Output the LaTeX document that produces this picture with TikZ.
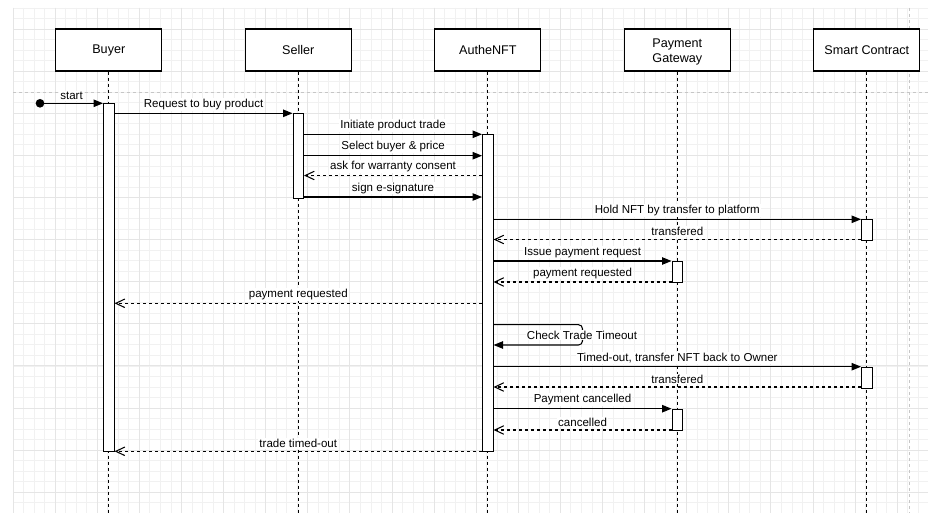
\documentclass[tikz,border=0pt]{standalone}
\usepackage{fontspec}
\setmainfont{Liberation Sans}
\usetikzlibrary{arrows.meta}
\begin{document}
\begin{tikzpicture}[x=1pt,y=-1pt,
  head/.style={draw=black, fill=white, line width=1.05pt, minimum width=106pt,
    minimum height=42pt, inner sep=0pt, align=center,
    font=\fontsize{12.6}{15}\selectfont},
  headtxt/.style={inner sep=0pt, align=center, font=\fontsize{12.6}{15}\selectfont},
  life/.style={line width=1.05pt, dash pattern=on 3pt off 3pt},
  bar/.style={draw=black, fill=white, line width=1.05pt, minimum width=10.5pt,
    inner sep=0pt, anchor=north},
  call/.style={line width=1.05pt, -{Triangle[length=9.5pt,width=7.5pt]}},
  reply/.style={line width=1.05pt, dash pattern=on 3pt off 3pt,
    -{Straight Barb[length=9pt,width=8.5pt]}},
  txt/.style={font=\fontsize{11.55}{13}\selectfont, fill=white, inner sep=1pt},
  lbl/.style={txt, above=2pt, midway},
]
\useasboundingbox (0,0) rectangle (928,513);
\fill[white] (0,0) rectangle (928,513);

% canvas grid
\foreach \i in {0,...,87}
  \draw[gray!11, line width=0.7pt] ({13+10.525*\i},8) -- ({13+10.525*\i},513);
\foreach \j in {0,...,48}
  \draw[gray!11, line width=0.7pt] (13,{8+10.525*\j}) -- (928,{8+10.525*\j});
\foreach \i in {0,...,21}
  \draw[gray!20, line width=0.8pt] ({13+42.1*\i},8) -- ({13+42.1*\i},513);
\foreach \j in {0,...,11}
  \draw[gray!20, line width=0.8pt] (13,{29.05+42.1*\j}) -- (928,{29.05+42.1*\j});

% page break marks
\draw[gray!45, line width=0.8pt, dash pattern=on 3pt off 3pt] (13,92) -- (928,92);
\draw[gray!45, line width=0.8pt, dash pattern=on 3pt off 3pt] (909.3,8) -- (909.3,513);

% participants
\node[head] (buyer)  at (108.8,50) {Buyer};
\node[head] (seller) at (298.3,50) {Seller};
\node[head] (authe)  at (487.8,50) {AutheNFT};
\node[head] (pg)     at (677.3,50) {};
\node[headtxt] (pgtext) at ([yshift=-1.8pt]pg.center) {Payment\\Gateway};
\node[head] (sc)     at (866.8,50) {Smart Contract};

\foreach \p in {buyer,seller,authe,pg,sc}
  \coordinate (\p-end) at (\p.south |- 0,513);
\foreach \p in {buyer,seller,authe,pg,sc}
  \draw[life] (\p.south) -- (\p-end);

% activation bars
\node[bar, minimum height=348pt]  (barB)  at (108.8,102.7) {};
\node[bar, minimum height=84.4pt] (barS)  at (298.3,113.3) {};
\node[bar, minimum height=317pt]  (barA)  at (487.8,134.3) {};
\node[bar, minimum height=21pt]   (barC1) at (866.8,219) {};
\node[bar, minimum height=21.3pt] (barG1) at (677.3,261) {};
\node[bar, minimum height=21pt]   (barC2) at (866.8,366.7) {};
\node[bar, minimum height=21.3pt] (barG2) at (677.3,408.7) {};

% message rows
\coordinate (r1)  at (0,113.3);
\coordinate (r2)  at (0,134.3);
\coordinate (r3)  at (0,155.7);
\coordinate (r4)  at (0,175.5);
\coordinate (r5)  at (0,197);
\coordinate (r6)  at (0,219.3);
\coordinate (r7)  at (0,239.5);
\coordinate (r8)  at (0,261);
\coordinate (r9)  at (0,282);
\coordinate (r10) at (0,303.3);
\coordinate (r11) at (0,324.7);
\coordinate (r12) at (0,345);
\coordinate (r13) at (0,366.7);
\coordinate (r14) at (0,387);
\coordinate (r15) at (0,408.7);
\coordinate (r16) at (0,430);
\coordinate (r17) at (0,451.3);

% start
\node[circle, fill=black, inner sep=0pt, minimum size=8.7pt] (st) at (40,103.3) {};
\draw[call] (st.center) -- (barB.west |- st) node[lbl] {start};

\draw[call]  (barB.east |- r1) -- (barS.west |- r1) node[lbl] {Request to buy product};
\draw[call]  (barS.east |- r2) -- (barA.west |- r2) node[lbl] {Initiate product trade};
\draw[call]  (barS.east |- r3) -- (barA.west |- r3) node[lbl] {Select buyer \& price};
\draw[reply] (barA.west |- r4) -- (barS.east |- r4) node[lbl] {ask for warranty consent};
\draw[call]  (barS.east |- r5) -- (barA.west |- r5) node[lbl] {sign e-signature};

\draw[call]  (barA.east |- r6) -- (barC1.west |- r6) node[lbl] {Hold NFT by transfer to platform};
\draw[reply] (barC1.west |- r7) -- (barA.east |- r7) node[lbl] {transfered};
\draw[call]  (barA.east |- r8) -- (barG1.west |- r8) node[lbl] {Issue payment request};
\draw[reply] (barG1.west |- r9) -- (barA.east |- r9) node[lbl] {payment requested};
\draw[reply] (barA.west |- r10) -- (barB.east |- r10) node[lbl] {payment requested};

% self call
\coordinate (loopR) at (582.5,0);
\draw[call, rounded corners=4pt] (barA.east |- r11) -- (loopR |- r11) -- (loopR |- r12) -- (barA.east |- r12);
\node[txt] (chk) at (582,335) {Check Trade Timeout};

\draw[call]  (barA.east |- r13) -- (barC2.west |- r13) node[lbl] {Timed-out, transfer NFT back to Owner};
\draw[reply] (barC2.west |- r14) -- (barA.east |- r14) node[lbl] {transfered};
\draw[call]  (barA.east |- r15) -- (barG2.west |- r15) node[lbl] {Payment cancelled};
\draw[reply] (barG2.west |- r16) -- (barA.east |- r16) node[lbl] {cancelled};
\draw[reply] (barA.west |- r17) -- (barB.east |- r17) node[lbl] {trade timed-out};
\end{tikzpicture}
\end{document}
